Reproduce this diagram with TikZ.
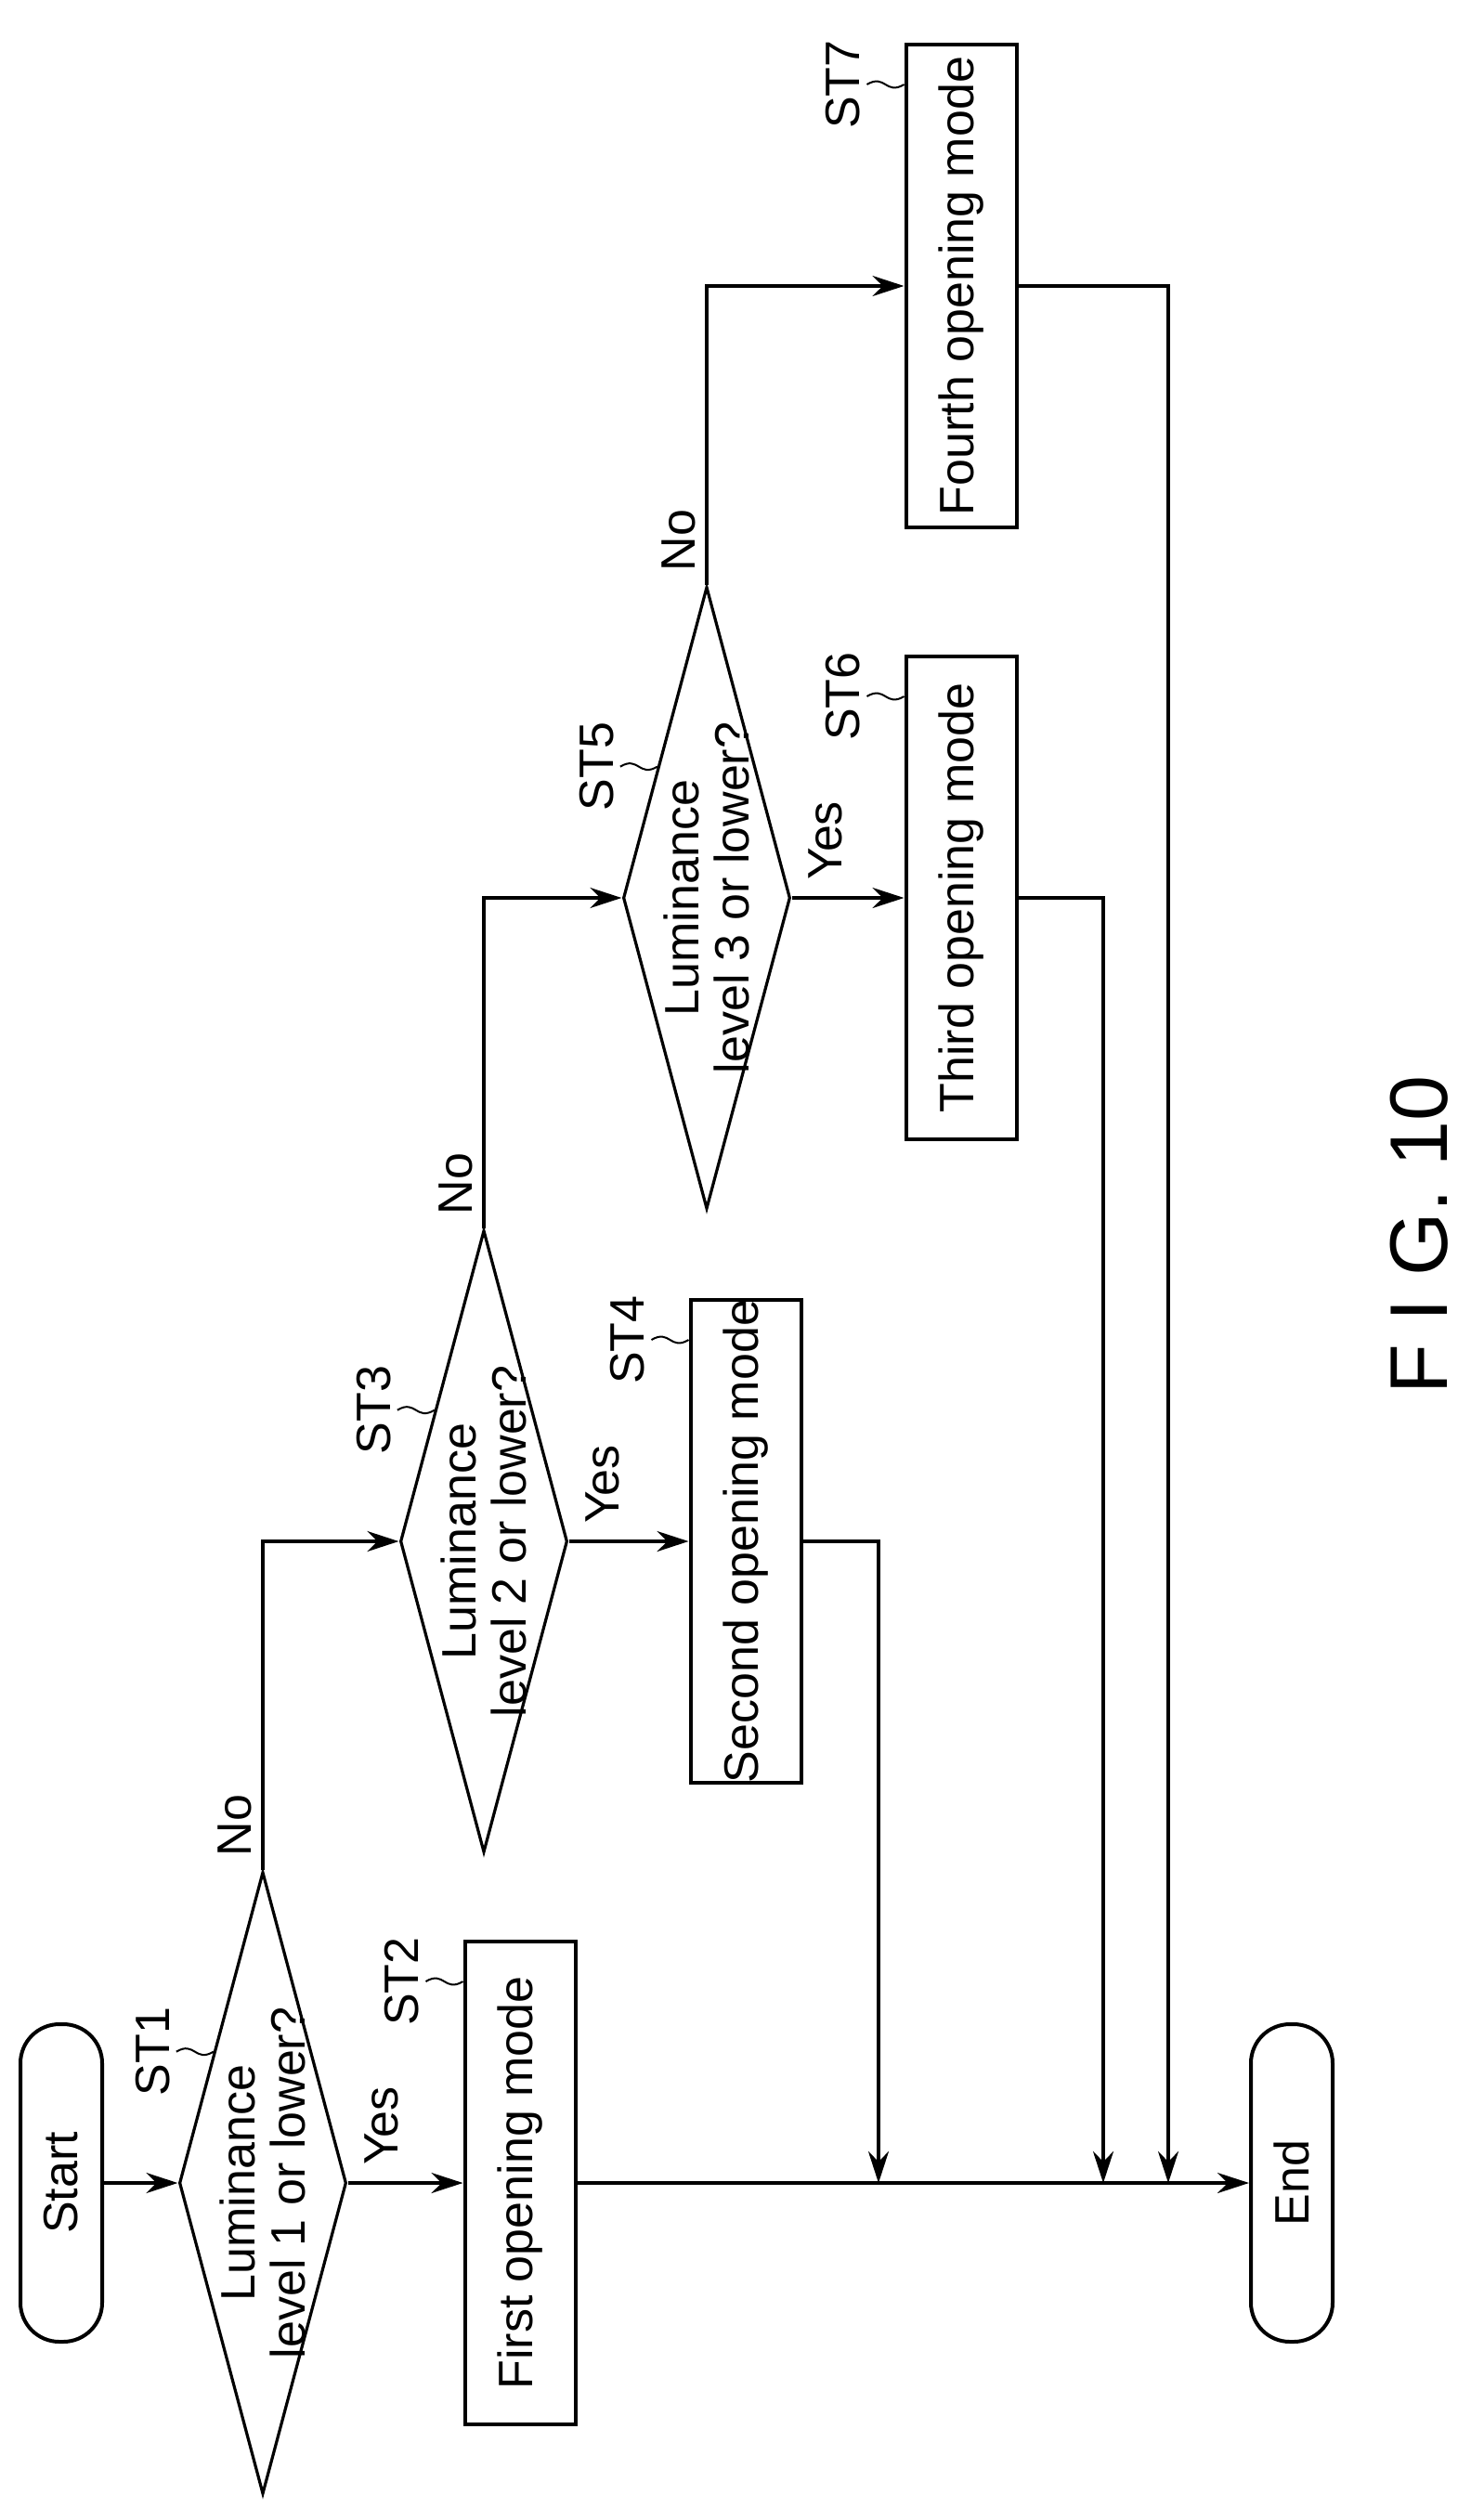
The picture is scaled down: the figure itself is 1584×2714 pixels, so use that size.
\documentclass[tikz,border=0pt]{standalone}
\usepackage{fontspec}
\setmainfont{Liberation Sans}
\usetikzlibrary{arrows.meta, calc, shapes.geometric}

\begin{document}
\begin{tikzpicture}[x=0.5pt, y=-0.5pt]
    % --- Style Definitions ---
    \tikzset{
        step box/.style={
            draw=black,
            line width=2pt,
            minimum width=59.5pt,
            minimum height=260pt,
            inner sep=0pt
        },
        term box/.style={
            draw=black,
            line width=2pt,
            rounded corners=21pt,
            minimum width=44pt,
            minimum height=171pt,
            inner sep=0pt
        },
        decision/.style={
            draw=black,
            line width=1.6pt,
            diamond,
            minimum width=90pt,
            minimum height=335pt,
            inner sep=0pt
        },
        box text/.style={
            rotate=90,
            font=\fontsize{26}{27}\selectfont,
            align=center
        },
        flow arrow/.style={
            -{Stealth[length=17pt, width=11pt]},
            line width=1.6pt
        },
        squiggle/.style={
            line width=1pt
        }
    }

    \useasboundingbox (0,0) rectangle (1584,2714);

    % --- 1. Terminals and Steps ---
    \node[term box] (start) at (66,2351) {};
    \node[box text] at (start) {Start};
    \node[term box] (end) at (1391,2351) {};
    \node[box text] at (end) {End};

    \node[decision] (d1) at (283,2351) {};
    \node[box text] at (d1) {Luminance\\level 1 or lower?};
    \node[step box] (b2) at (560,2351) {};
    \node[box text] at (b2) {First opening mode};

    \node[decision] (d3) at (521,1660) {};
    \node[box text] at (d3) {Luminance\\level 2 or lower?};
    \node[step box] (b4) at (803,1660) {};
    \node[box text] at (b4) {Second opening mode};

    \node[decision] (d5) at (761,967) {};
    \node[box text] at (d5) {Luminance\\level 3 or lower?};
    \node[step box] (b6) at (1035,967) {};
    \node[box text] at (b6) {Third opening mode};

    \node[step box] (b7) at (1035,308) {};
    \node[box text] at (b7) {Fourth opening mode};

    % --- 2. Joins on the main line ---
    \coordinate (j4) at (946,2351);
    \coordinate (j6) at (1188,2351);
    \coordinate (j7) at (1258,2351);

    % --- 3. Connectors ---
    \draw[flow arrow] (start.east) -- (d1.west);
    \draw[flow arrow] (d1.east) -- (b2.west);
    \draw[flow arrow] (b2.east) -- (end.west);
    \draw[flow arrow] (d1.north) |- (d3.west);
    \draw[flow arrow] (d3.east) -- (b4.west);
    \draw[flow arrow] (b4.east) -| (j4);
    \draw[flow arrow] (d3.north) |- (d5.west);
    \draw[flow arrow] (d5.east) -- (b6.west);
    \draw[flow arrow] (b6.east) -| (j6);
    \draw[flow arrow] (d5.north) |- (b7.west);
    \draw[flow arrow] (b7.east) -| (j7);

    % --- 4. Yes / No ---
    \node[box text, anchor=west] (yes1) at ($(d1.east)+(36,-12)$) {Yes};
    \node[box text, anchor=west] (yes3) at ($(d3.east)+(36,-12)$) {Yes};
    \node[box text, anchor=west] (yes5) at ($(d5.east)+(36,-12)$) {Yes};
    \node[box text, anchor=west] (no1) at ($(d1.north)+(-30,-8)$) {No};
    \node[box text, anchor=west] (no3) at ($(d3.north)+(-30,-8)$) {No};
    \node[box text, anchor=west] (no5) at ($(d5.north)+(-30,-8)$) {No};

    % --- 5. Step labels ---
    \foreach \d/\s in {d1/ST1, d3/ST3, d5/ST5} {
        \coordinate (p\s) at ($(\d.west)!0.42!(\d.north)$);
        \node[box text, anchor=south] (l\s) at ($(p\s)+(-40,0)$) {\s};
        \draw[squiggle] (l\s.south) .. controls +(20,-12) and +(-20,12) .. (p\s);
    }
    \foreach \b/\s in {b2/ST2, b4/ST4, b6/ST6, b7/ST7} {
        \coordinate (p\s) at ($(\b.north west)+(0,45)$);
        \node[box text, anchor=south] (l\s) at ($(p\s)+(-40,0)$) {\s};
        \draw[squiggle] (l\s.south) .. controls +(20,-12) and +(-20,12) .. (p\s);
    }

    % --- 6. Figure caption ---
    \node[rotate=90, font=\fontsize{44}{48}\selectfont] (fig) at (1528,1330) {F I G. 10};
\end{tikzpicture}
\end{document}
